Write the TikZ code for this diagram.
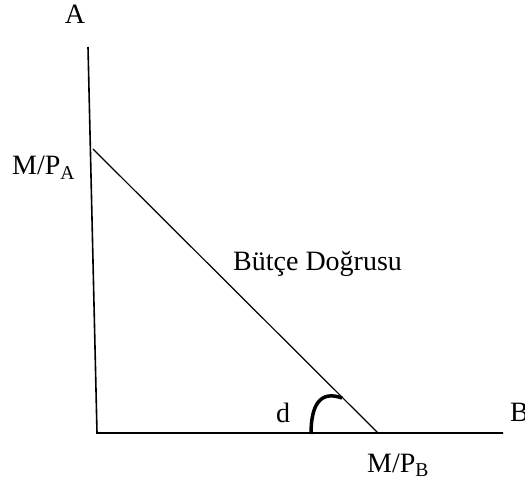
\documentclass[tikz,border=0pt]{standalone}
\usepackage{fontspec}
\setmainfont{Liberation Serif}
\begin{document}
\begin{tikzpicture}[x=1pt,y=-1pt,
  axis/.style={line width=1.6pt},
  budget/.style={line width=1.2pt},
  lbl/.style={inner sep=0pt,font=\fontsize{28}{32}\selectfont},
  anglemark/.style={line width=3.5pt}]
\useasboundingbox (0,0) rectangle (525,481);
\coordinate (Atop) at (88,47);
\coordinate (O) at (97,433);
\coordinate (Bend) at (503,433);
\coordinate (MA) at (93,149);
\coordinate (MB) at (378,433);
\coordinate (c1) at (311,434);
\coordinate (c2) at (342,398);
\draw[axis] (Atop) -- (O) -- (Bend);
\draw[budget] (MA) -- (MB);
\draw[anglemark] (c1) .. controls (311,405) and (320,390) .. (c2);
\node[lbl,anchor=base] (A) at (75,24) {A};
\node[lbl,anchor=base west] (MPA) at (12,175) {M/P\textsubscript{A}};
\node[lbl,anchor=base west] (BD) at (233,271) {Bütçe Doğrusu};
\node[lbl,anchor=base] (d) at (283,422) {d};
\node[lbl,anchor=base west] (B) at (510,421) {B};
\node[lbl,anchor=base west] (MPB) at (367,472) {M/P\textsubscript{B}};
\end{tikzpicture}
\end{document}
